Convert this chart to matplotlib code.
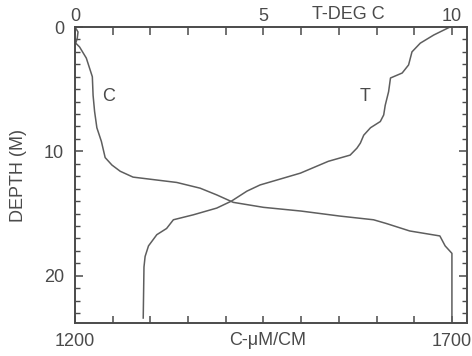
import numpy as np
import matplotlib
matplotlib.use('Agg')
import matplotlib.pyplot as plt
import matplotlib.transforms as mtransforms

plt.rcParams['font.family'] = ['Liberation Sans', 'DejaVu Sans']

ink = '#4a4a4a'
curve = '#5e5e5e'

# conductivity profile (bottom axis)
depth_c = [0, 0.4, 0.9, 1.3, 1.6, 2.5, 4.0, 5.5, 6.8, 8.1, 9.2, 10.5, 11.1, 11.6,
           12.07, 12.3, 12.5, 12.96, 13.5, 14.1, 14.5, 14.8, 15.2, 15.5, 15.8,
           16.4, 16.8, 17.6, 18.2, 23.65]
cond = [1200, 1204, 1203, 1201, 1206, 1215, 1223, 1224, 1226, 1229, 1235, 1240, 1249, 1260,
        1277, 1308, 1335, 1366, 1388, 1410, 1450, 1500, 1551, 1596, 1613,
        1644, 1684, 1691, 1700, 1700]

# temperature profile (top axis)
depth_t = [0, 0.64, 1.3, 2.0, 3.05, 3.7, 4.1, 5.2, 6.3, 7.07, 7.6, 8.1, 8.7, 9.34,
           9.74, 10.3, 10.8, 11.75, 12.15, 12.7, 13.2, 14.0, 14.56, 15.1, 15.5,
           16.2, 16.7, 17.6, 18.45, 19.3, 23.4]
temp = [9.95, 9.52, 9.16, 8.94, 8.85, 8.68, 8.37, 8.32, 8.23, 8.19, 8.1, 7.84, 7.66, 7.57,
        7.48, 7.3, 6.72, 5.98, 5.53, 4.91, 4.56, 4.15, 3.76, 3.14, 2.61,
        2.43, 2.17, 1.95, 1.86, 1.83, 1.81]

c_ticks = list(range(1200, 1701, 50))
c_labels = ['1200'] + [''] * 9 + ['1700']
t_ticks = list(range(0, 11))
t_labels = ['0', '', '', '', '', '5', '', '', '', '', '10']
depth_major = [0, 10, 20]
depth_minor = list(range(0, 24))

fig = plt.figure(figsize=(4.72, 3.56), dpi=100)
ax = fig.add_axes([75 / 472, 1 - 323 / 356, (467 - 75) / 472, (323 - 27) / 356])

ax.plot(cond, depth_c, color=curve, lw=1.1)
ax.set_xlim(1200, 1720)
ax.set_ylim(23.8, 0)

ax.set_xticks(c_ticks)
ax.set_xticklabels(c_labels)
ax.set_yticks(depth_major)
ax.set_yticks(depth_minor, minor=True)
ax.tick_params(axis='x', which='both', direction='in', length=5, width=1.1,
               color=ink, labelcolor=ink, labelsize=13, pad=7)
ax.tick_params(axis='y', which='major', direction='in', length=5.5, width=1.1,
               color=ink, labelcolor=ink, labelsize=13, pad=8, right=True)
ax.tick_params(axis='y', which='minor', direction='in', length=3.5, width=1.0,
               color=ink, right=True)
for s in ax.spines.values():
    s.set_color(ink)
    s.set_linewidth(1.2)

ax.set_ylabel('DEPTH (M)', color=ink, fontsize=13, labelpad=12)

ax2 = ax.twiny()
ax2.plot(temp, depth_t, color=curve, lw=1.1)
ax2.set_xlim(0, 10.4)
ax2.set_xticks(t_ticks)
ax2.set_xticklabels(t_labels)
ax2.tick_params(axis='x', which='both', direction='in', length=5.5, width=1.1,
                color=ink, labelcolor=ink, labelsize=13, pad=1.5)
for s in ax2.spines.values():
    s.set_color(ink)
    s.set_linewidth(1.2)

# axis names sitting on the tick-label rows
bot = mtransforms.blended_transform_factory(ax.transData, ax.transAxes)
ax.text(1456, -0.058, 'C-\u03bcM/CM', transform=bot, ha='center', va='center',
        color=ink, fontsize=13)
top = mtransforms.blended_transform_factory(ax2.transData, ax2.transAxes)
ax2.text(7.25, 1.043, 'T-DEG C', transform=top, ha='center', va='center',
         color=ink, fontsize=13)

# curve tags
ax.text(1244, 5.6, 'C', color=ink, fontsize=13, ha='center', va='center')
ax2.text(7.69, 5.6, 'T', color=ink, fontsize=13, ha='center', va='center')

fig.savefig('out.png', dpi=100)
